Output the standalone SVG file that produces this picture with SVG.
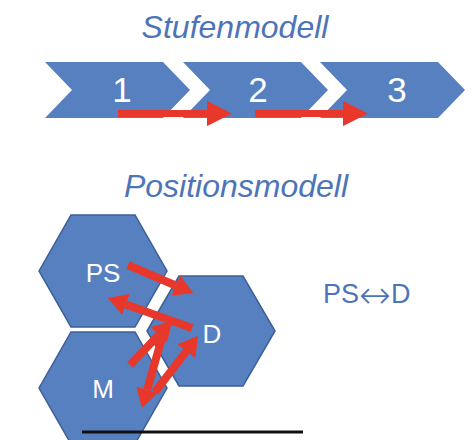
<svg xmlns="http://www.w3.org/2000/svg" width="474" height="440" viewBox="0 0 474 440">
<style>
.title{font-family:"Liberation Sans",Arial,sans-serif;font-style:italic;font-size:32px;fill:#4e74b8;text-anchor:middle}
.num{font-family:"Liberation Sans",Arial,sans-serif;font-size:35px;fill:#ffffff;text-anchor:middle}
.lbl{font-family:"Liberation Sans",Arial,sans-serif;font-size:26px;fill:#ffffff;text-anchor:middle}
.chev{fill:#5680c0}
.hexw{fill:none;stroke:#ffffff;stroke-width:5}
.hex{fill:#5680c0;stroke:#3b5f96;stroke-width:1.5}
.arr{stroke:#e8382b;fill:none}
</style>
<defs>
<marker id="ht" viewBox="0 0 10 10" refX="0" refY="5" markerUnits="strokeWidth" markerWidth="3.6" markerHeight="3.6" preserveAspectRatio="none" orient="auto"><path d="M0,0 L10,5 L0,10 z" fill="#e8382b"/></marker>
<marker id="hh" viewBox="0 0 10 10" refX="0" refY="5" markerUnits="strokeWidth" markerWidth="2.4" markerHeight="2.8" preserveAspectRatio="none" orient="auto"><path d="M0,0 L10,5 L0,10 z" fill="#e8382b"/></marker>
</defs>
<rect width="474" height="440" fill="#ffffff"/>
<text class="title" x="235" y="38">Stufenmodell</text>
<g id="stage1"><polygon class="chev" points="45,62 163,62 190,90 163,118 45,118 72,90"/><text class="num" x="122" y="102">1</text></g>
<g id="stage2"><polygon class="chev" points="183,62 301,62 328,90 301,118 183,118 210,90"/><text class="num" x="258" y="102">2</text></g>
<g id="stage3"><polygon class="chev" points="320,62 438,62 465,90 438,118 320,118 347,90"/><text class="num" x="397" y="102">3</text></g>
<text class="title" x="236" y="197">Positionsmodell</text>
<g id="PS"><polygon class="hexw" points="39,271 71,215 135,215 167,271 135,327 71,327"/><polygon class="hex" points="39,271 71,215 135,215 167,271 135,327 71,327"/><text class="lbl" x="103" y="282">PS</text></g>
<g id="M"><polygon class="hexw" points="39,388 71,332 135,332 167,388 135,444 71,444"/><polygon class="hex" points="39,388 71,332 135,332 167,388 135,444 71,444"/><text class="lbl" x="103" y="398">M</text></g>
<g id="D"><polygon class="hexw" points="147,331 179,276 243,276 275,331 243,386 179,386"/><polygon class="hex" points="147,331 179,276 243,276 275,331 243,386 179,386"/><text class="lbl" x="212" y="343">D</text></g>
<g id="connectors">
<line class="arr" x1="118" y1="113.5" x2="207" y2="113.5" stroke-width="7" marker-end="url(#ht)"/>
<line class="arr" x1="255" y1="113.5" x2="343" y2="113.5" stroke-width="7" marker-end="url(#ht)"/>
<line class="arr" x1="128" y1="265" x2="175.6" y2="285.5" stroke-width="8" marker-end="url(#hh)"/>
<line class="arr" x1="192" y1="328" x2="125.9" y2="304.4" stroke-width="8" marker-end="url(#hh)"/>
<line class="arr" x1="130" y1="365" x2="158.9" y2="334.8" stroke-width="8" marker-end="url(#hh)"/>
<line class="arr" x1="165" y1="327" x2="147.2" y2="389.7" stroke-width="8" marker-end="url(#hh)"/>
<line class="arr" x1="155" y1="392" x2="186.4" y2="351.1" stroke-width="8" marker-end="url(#hh)"/>
</g>
<text x="323" y="303" style="font-family:'Liberation Sans',Arial,sans-serif;font-size:27px;fill:#4e74b8">PS<tspan style="font-family:'DejaVu Sans',sans-serif;font-weight:200;font-size:38px" dy="5">↔</tspan><tspan dy="-5">D</tspan></text>
<line x1="82" y1="432" x2="303" y2="432" stroke="#111111" stroke-width="3"/>
</svg>
